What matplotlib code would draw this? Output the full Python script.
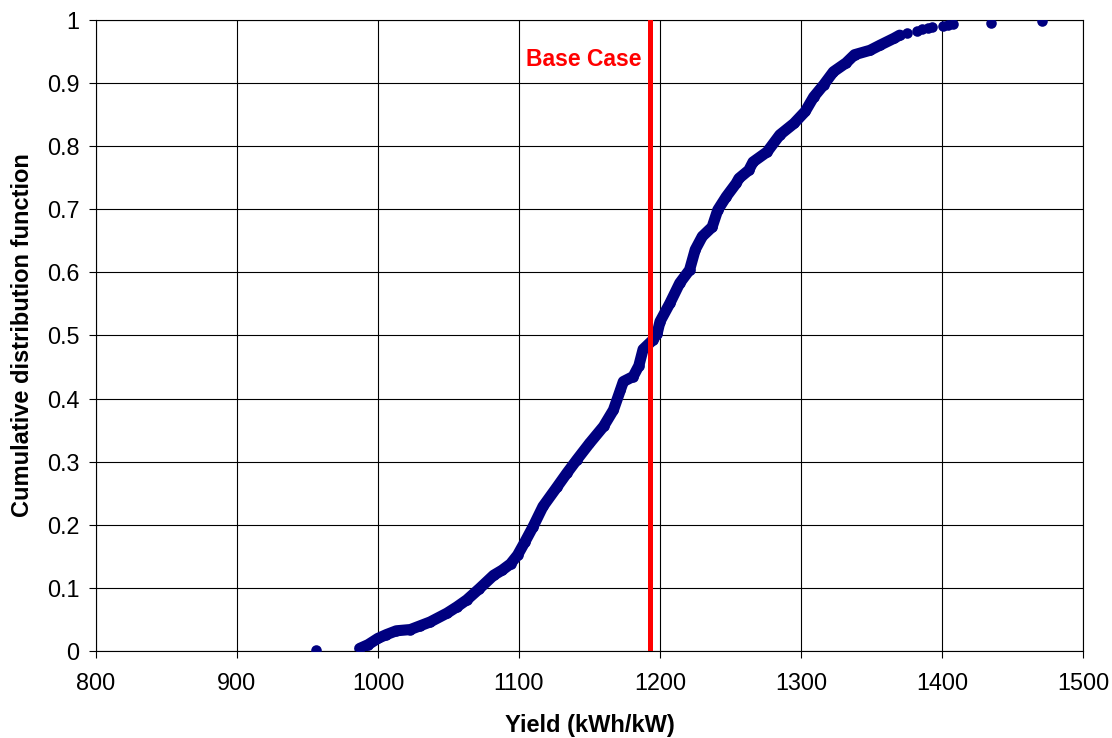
import matplotlib
matplotlib.use("Agg")
import matplotlib.pyplot as plt
import numpy as np

plt.rcParams['font.family'] = ['Liberation Sans', 'DejaVu Sans']

yield_dense = [987, 993, 1000, 1006, 1013, 1023, 1030, 1037, 1049, 1056, 1063, 1072, 1082,
               1088, 1094, 1099, 1104, 1110, 1117, 1127, 1134, 1141, 1150, 1160, 1167,
               1172, 1174, 1181, 1185, 1188, 1195, 1198, 1200, 1207, 1214, 1221, 1225,
               1230, 1237, 1241, 1247, 1254, 1256, 1263, 1266, 1276, 1285, 1295, 1303,
               1309, 1316, 1323, 1332, 1338, 1349, 1356, 1366, 1370]
cdf_dense = [0.004, 0.010, 0.020, 0.026, 0.032, 0.034, 0.040, 0.046, 0.060, 0.070, 0.081,
             0.099, 0.120, 0.128, 0.138, 0.152, 0.172, 0.197, 0.229, 0.260, 0.282, 0.303,
             0.329, 0.356, 0.382, 0.414, 0.427, 0.435, 0.452, 0.478, 0.493, 0.503, 0.522,
             0.551, 0.583, 0.604, 0.636, 0.657, 0.672, 0.699, 0.720, 0.741, 0.749, 0.762,
             0.775, 0.791, 0.818, 0.836, 0.855, 0.878, 0.897, 0.918, 0.932, 0.945, 0.952,
             0.960, 0.971, 0.976]

# Sparse tail points
yield_tail = [956, 1375, 1382, 1386, 1390, 1393, 1401, 1404, 1408, 1435, 1471]
cdf_tail = [0.002, 0.980, 0.982, 0.985, 0.987, 0.989, 0.990, 0.992, 0.994, 0.996, 0.998]

base_case = 1193

fig = plt.figure(figsize=(11.12, 7.38), dpi=100)
ax = fig.add_axes([0.0863, 0.1179, 0.8876, 0.855])

navy = '#000080'
ax.plot(yield_dense, cdf_dense, color=navy, lw=8.0, solid_capstyle='round',
        solid_joinstyle='round', zorder=3)
ax.plot(yield_dense, cdf_dense, 'o', color=navy, ms=7.6, mec='none', zorder=3)
ax.plot(yield_tail, cdf_tail, 'o', color=navy, ms=7.6, mec='none', zorder=3)

ax.axvline(base_case, ymin=0, ymax=1, color='#ff0000', lw=3.6, zorder=4)
ax.text(1187, 0.927, 'Base Case', color='#ff0000', fontsize=16.5, fontweight='bold',
        ha='right', va='baseline')

ax.set_xlim(800, 1500)
ax.set_ylim(0, 1)
ax.set_xticks(np.arange(800, 1501, 100))
ax.set_yticks(np.arange(0, 1.01, 0.1))
ax.set_yticklabels(['0', '0.1', '0.2', '0.3', '0.4', '0.5', '0.6', '0.7', '0.8', '0.9', '1'])
ax.grid(True, color='black', lw=0.8)
ax.set_axisbelow(True)
for s in ax.spines.values():
    s.set_color('black')
    s.set_linewidth(0.8)
ax.tick_params(direction='out', length=5, width=0.8, labelsize=16.8, colors='black')
ax.tick_params(axis='y', pad=7)
ax.tick_params(axis='x', pad=10)

ax.set_xlabel('Yield (kWh/kW)', fontsize=17, fontweight='bold', labelpad=14)
ax.set_ylabel('Cumulative distribution function', fontsize=17, fontweight='bold', labelpad=9)

fig.savefig('out.png', dpi=100)
